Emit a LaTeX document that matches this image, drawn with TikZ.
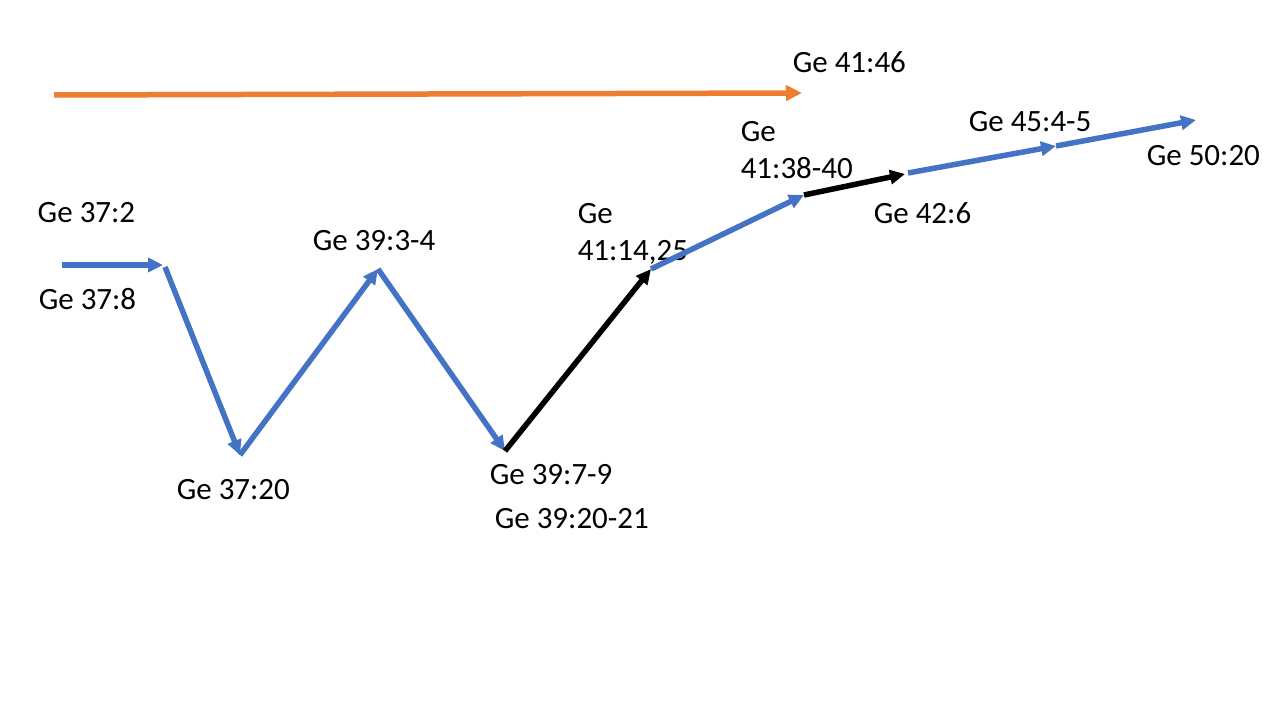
\documentclass[tikz,border=0pt]{standalone}
\usepackage{fontspec}
\setmainfont{Carlito}
\usepackage{xcolor}
\definecolor{StepBlue}{HTML}{4472C4}
\definecolor{TimeOrange}{HTML}{ED7D31}
\usepackage{tikz}
\usetikzlibrary{arrows.meta}

\begin{document}
\begin{tikzpicture}[x=1pt,y=-1pt,line width=5.5pt,
  lbl/.style={inner sep=0pt,anchor=base west,align=left,font=\fontsize{31}{37}\selectfont}]
\useasboundingbox (0,0) rectangle (1280,720);

\coordinate (os) at (54,95);
\coordinate (oe) at (802,93);

\coordinate (s0) at (62,265);
\coordinate (s1) at (163,265);
\coordinate (s1b) at (165,267);
\coordinate (s2) at (240,455);
\coordinate (s3) at (378,269);
\coordinate (s4) at (505,451);
\coordinate (s5) at (651,269);
\coordinate (s6) at (804,195);
\coordinate (s7) at (905,174);
\coordinate (s7b) at (908,173);
\coordinate (s8) at (1056,146);
\coordinate (s9) at (1196,120);

\node[lbl] (top) at (790,72) {Ge 41:46};
\node[lbl] (ta) at (35,222) {Ge 37:2};
\node[lbl] (tb) at (36,309) {Ge 37:8};
\node[lbl] (tc) at (174,499) {Ge 37:20};
\node[lbl] (td) at (310,250) {Ge 39:3-4};
\node[lbl] (te) at (487,484) {Ge 39:7-9};
\node[lbl] (tf) at (492,528) {Ge 39:20-21};
\node[lbl] (tg) at (575,260) {Ge\\41:14,25};
\node[lbl] (th) at (738,178) {Ge\\41:38-40};
\node[lbl] (ti) at (871,223) {Ge 42:6};
\node[lbl] (tj) at (966,131) {Ge 45:4-5};
\node[lbl] (tk) at (1144,165) {Ge 50:20};

\draw[TimeOrange,-{Triangle[length=16pt,width=15pt]}] (os) -- (oe);

\draw[StepBlue,-{Triangle[length=15pt,width=14pt]}] (s0) -- (s1);
\draw[StepBlue,-{Triangle[length=15pt,width=14pt]}] (s1b) -- (s2);
\draw[StepBlue,-{Triangle[length=15pt,width=14pt]}] (s2) -- (s3);
\draw[StepBlue,-{Triangle[length=15pt,width=14pt]}] (s3) -- (s4);
\draw[black,-{Triangle[length=15pt,width=14pt]}] (s4) -- (s5);
\draw[StepBlue,-{Triangle[length=15pt,width=14pt]}] (s5) -- (s6);
\draw[black,-{Triangle[length=15pt,width=14pt]}] (s6) -- (s7);
\draw[StepBlue,-{Triangle[length=15pt,width=14pt]}] (s7b) -- (s8);
\draw[StepBlue,-{Triangle[length=15pt,width=14pt]}] (s8) -- (s9);
\end{tikzpicture}
\end{document}
